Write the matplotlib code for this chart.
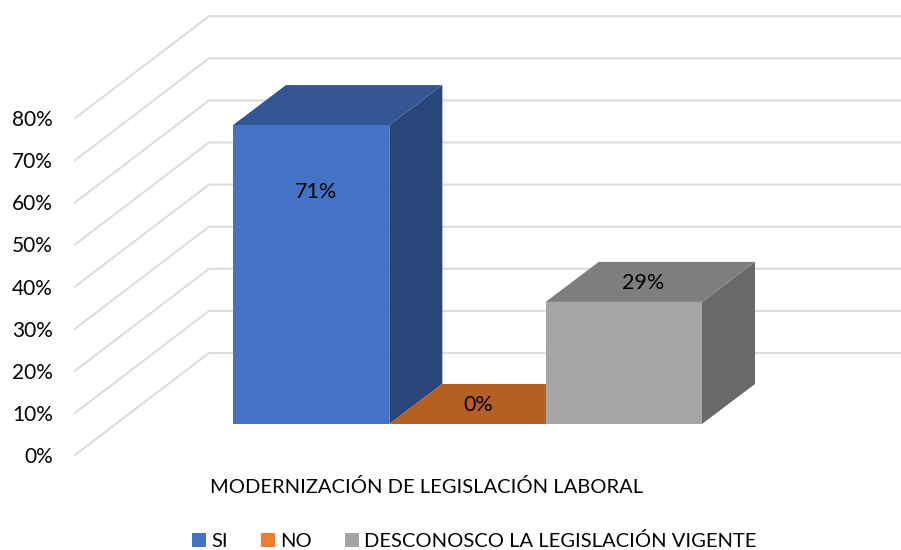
import matplotlib
matplotlib.use("Agg")
import matplotlib.pyplot as plt
from matplotlib.patches import Polygon, Patch

plt.rcParams['font.family'] = ['Lato', 'DejaVu Sans']

categories = ["SI", "NO", "DESCONOSCO LA LEGISLACIÓN VIGENTE"]
values = [71, 0, 29]
value_labels = ["71%", "0%", "29%"]
ticks = [0, 10, 20, 30, 40, 50, 60, 70, 80]
tick_labels = ["0%", "10%", "20%", "30%", "40%", "50%", "60%", "70%", "80%"]
axis_title = "MODERNIZACIÓN DE LEGISLACIÓN LABORAL"

front_colors = ["#4472C4", "#ED7D31", "#A5A5A5"]
top_colors = ["#345593", "#B55F22", "#7E7E7E"]
side_colors = ["#2A477C", "#94501C", "#696969"]

W, H = 901, 550
PX_X = 156.33     # pixels per bar width
PX_Y = 4.21       # pixels per percentage point
X0, Y0 = 233, 424 # pixel position of the first bar's base corner
INK = "#050505"

fig = plt.figure(figsize=(W / 100, H / 100), dpi=100, facecolor="white")
ax = fig.add_axes([0, 0, 1, 1])
ax.set_xlim(-X0 / PX_X, (W - X0) / PX_X)
ax.set_ylim((Y0 - H) / PX_Y, Y0 / PX_Y)
ax.axis("off")

DX, DY = 53 / PX_X, 40 / PX_Y               # bar depth
wall_l, wall_b = (75 - X0) / PX_X, (Y0 - 455) / PX_Y   # front-left end of gridlines
back_l, back_b = (209 - X0) / PX_X, (Y0 - 353) / PX_Y  # back wall corner
right = (901 - X0) / PX_X

for t, lab in zip(ticks, tick_labels):
    ax.plot([wall_l, back_l, right], [wall_b + t, back_b + t, back_b + t],
            color="#DDDDDD", lw=1.5, zorder=1, solid_joinstyle="miter")
    ax.text(wall_l - 22 / PX_X, wall_b + t - 2 / PX_Y, lab, ha="right", va="center",
            fontsize=15, color=INK, zorder=5)

for i, (v, f, tp, s, lab) in enumerate(zip(values, front_colors, top_colors, side_colors, value_labels)):
    x0, x1 = i, i + 1
    ax.add_patch(Polygon([(x1, 0), (x1 + DX, DY), (x1 + DX, v + DY), (x1, v)],
                         closed=True, fc=s, ec="none", zorder=2 + i * 0.1))
    ax.add_patch(Polygon([(x0, v), (x1, v), (x1 + DX, v + DY), (x0 + DX, v + DY)],
                         closed=True, fc=tp, ec="none", zorder=2.01 + i * 0.1))
    ax.add_patch(Polygon([(x0, 0), (x1, 0), (x1, v), (x0, v)],
                         closed=True, fc=f, ec="none", zorder=2.02 + i * 0.1))

label_pos = [(0.53, 55.2), (1.567, 4.5), (2.625, 33.6)]
for (lx, ly), lab in zip(label_pos, value_labels):
    ax.text(lx, ly, lab, ha="center", va="center", fontsize=15.5, color=INK, zorder=6)

ax.text((427 - X0) / PX_X, (Y0 - 487) / PX_Y, axis_title, ha="center", va="center",
        fontsize=14.5, color=INK)

handles = [Patch(fc=c, ec="none") for c in front_colors]
ax.legend(handles, categories, loc="center", bbox_to_anchor=(474 / W, 1 - 541 / H),
          bbox_transform=fig.transFigure, ncol=3, frameon=False, fontsize=14.5,
          handlelength=0.7, handleheight=0.7, handletextpad=0.25, columnspacing=1.64,
          labelcolor=INK, borderpad=0, borderaxespad=0)

fig.savefig("out.png", dpi=100, facecolor="white")
